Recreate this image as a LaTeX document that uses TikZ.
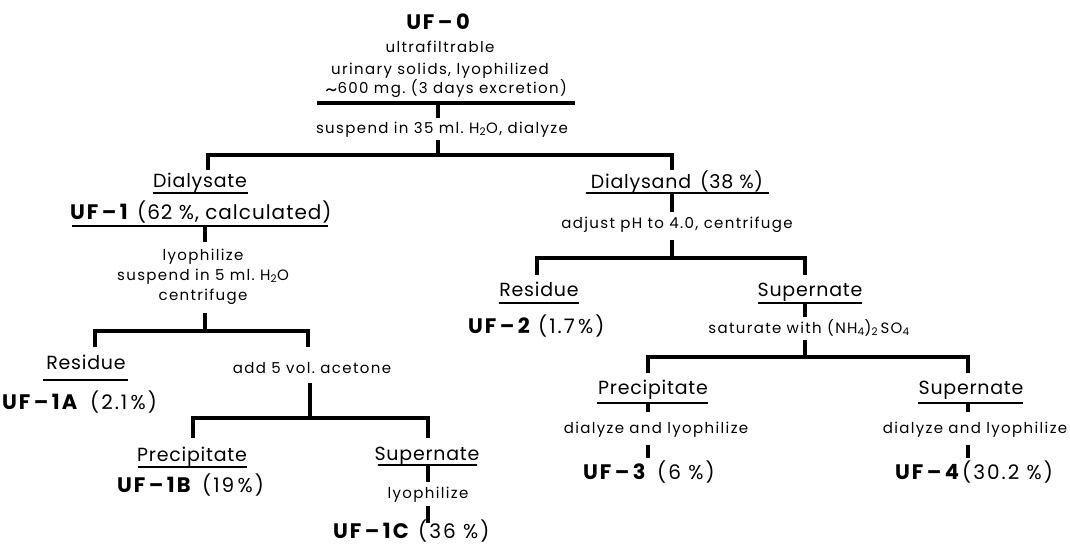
\documentclass[tikz,border=0pt]{standalone}
\usepackage{fontspec}
\usepackage{graphicx}
\setmainfont{Poppins}
\newcommand{\wave}{\raisebox{-.45ex}{\scalebox{1.6}[1.3]{\textasciitilde}}}
\begin{document}
\begin{tikzpicture}[x=1pt,y=-1pt,
  every node/.style={inner sep=0pt},
  sm/.style={font=\fontsize{15}{18}\selectfont\addfontfeature{LetterSpace=9}, anchor=base},
  hd/.style={font=\fontsize{19}{22}\selectfont\addfontfeature{LetterSpace=4}, anchor=base},
  uf/.style={font=\fontsize{21}{24}\selectfont\bfseries\addfontfeature{LetterSpace=9}, anchor=base west},
  pc/.style={font=\fontsize{20}{24}\selectfont\addfontfeature{LetterSpace=10}, anchor=base west},
  bar/.style={line width=3.6pt, line join=miter},
  vl/.style={line width=3.6pt},
  ul/.style={line width=2.2pt},
]
\useasboundingbox (0,0) rectangle (1070,546);
% ---------- top ----------
\node[uf, anchor=base] (uf0) at (438,29) {UF\,–\,0};
\node[sm] (d0a) at (440,52) {ultrafiltrable};
\node[sm] (d0b) at (440,74) {urinary solids, lyophilized};
\node[sm] (d0c) at (446,93) {\wave600 mg.\ (3 days excretion)};
\coordinate (tl) at (317,103); \coordinate (tr) at (575,103); \coordinate (t0) at (438,103);
\draw[bar] (tl) -- (tr);
\node[sm] (s0) at (442,133) {suspend in 35 ml.\ H\textsubscript{2}O, dialyze};
\coordinate (t0b) at (438,118); \coordinate (t0c) at (438,140);
\draw[vl] (t0) -- (t0b);
% main bar
\coordinate (jA) at (438,155); \coordinate (aL) at (208,155); \coordinate (aR) at (672,155);
\coordinate (aLd) at (208,170); \coordinate (aRd) at (672,170);
\draw[vl] (t0c) -- (jA);
\draw[bar] (aLd) -- (aL) -- (aR) -- (aRd);
% ---------- left branch ----------
\node[hd] (dsate) at (200,187) {Dialysate};
\draw[ul] (153,193) -- (248,193);
\node[uf] (uf1) at (70,219) {UF\,–\,1};
\node[pc, font=\fontsize{20}{24}\selectfont\addfontfeature{LetterSpace=5}] (uf1p) at (137,219) {(62 \%, calculated)};
\draw[ul] (72,226) -- (328,226);
\coordinate (l1a) at (205,226); \coordinate (l1b) at (205,242);
\draw[vl] (l1a) -- (l1b);
\node[sm] (l1t1) at (203,260) {lyophilize};
\node[sm] (l1t2) at (203,280) {suspend in 5 ml.\ H\textsubscript{2}O};
\node[sm] (l1t3) at (203,300) {centrifuge};
\coordinate (l1c) at (205,313); \coordinate (jB) at (205,331);
\draw[vl] (l1c) -- (jB);
\coordinate (bL) at (95,331); \coordinate (bR) at (308,331);
\coordinate (bLd) at (95,347); \coordinate (bRd) at (308,347);
\draw[bar] (bLd) -- (bL) -- (bR) -- (bRd);
\node[hd] (resL) at (86,369) {Residue};
\draw[ul] (43,380) -- (128,380);
\node[uf] (uf1a) at (2,409) {UF\,–\,1A};
\node[pc] (uf1ap) at (90,409) {(2.1\,\%)};
\node[sm] (acet) at (312,373) {add 5 vol.\ acetone};
\coordinate (l2a) at (310,383); \coordinate (jC) at (310,418);
\draw[vl] (l2a) -- (jC);
\coordinate (cL) at (193,418); \coordinate (cR) at (428,418);
\coordinate (cLd) at (193,438); \coordinate (cRd) at (428,438);
\draw[bar] (cLd) -- (cL) -- (cR) -- (cRd);
\node[hd] (precL) at (192,461) {Precipitate};
\draw[ul] (138,467) -- (247,467);
\node[uf] (uf1b) at (117,492) {UF\,–\,1B};
\node[pc] (uf1bp) at (202,492) {(19\,\%)};
\node[hd] (supL) at (427,460) {Supernate};
\draw[ul] (378,465) -- (477,465);
\coordinate (l3a) at (428,465); \coordinate (l3b) at (428,482);
\draw[vl] (l3a) -- (l3b);
\node[sm] (lyo2) at (428,498) {lyophilize};
\coordinate (l3c) at (428,506); \coordinate (l3d) at (428,523);
\draw[vl] (l3c) -- (l3d);
\node[uf] (uf1c) at (333,538) {UF\,–\,1C};
\node[pc] (uf1cp) at (418,538) {(36 \%)};
% ---------- right branch ----------
\node[hd] (dsand) at (677,188) {Dialysand\hspace{9pt}(38 \%)};
\draw[ul] (586,193) -- (769,193);
\coordinate (r1a) at (672,193); \coordinate (r1b) at (672,212);
\draw[vl] (r1a) -- (r1b);
\node[sm] (adj) at (677,228) {adjust pH to 4.0, centrifuge};
\coordinate (r1c) at (672,240); \coordinate (jD) at (672,258);
\draw[vl] (r1c) -- (jD);
\coordinate (dL) at (537,258); \coordinate (dR) at (805,258);
\coordinate (dLd) at (537,275); \coordinate (dRd) at (805,275);
\draw[bar] (dLd) -- (dL) -- (dR) -- (dRd);
\node[hd] (resR) at (539,296) {Residue};
\draw[ul] (499,303) -- (579,303);
\node[uf] (uf2) at (468,333) {UF\,–\,2};
\node[pc] (uf2p) at (538,333) {(1.7\,\%)};
\node[hd] (supR) at (810,296) {Supernate};
\draw[ul] (758,303) -- (862,303);
\coordinate (r2a) at (805,303); \coordinate (r2b) at (805,317);
\draw[vl] (r2a) -- (r2b);
\node[sm] (sat) at (809,333) {saturate with (NH\textsubscript{4})\textsubscript{2}\,SO\textsubscript{4}};
\coordinate (r2c) at (805,340); \coordinate (jE) at (805,357);
\draw[vl] (r2c) -- (jE);
\coordinate (eL) at (648,357); \coordinate (eR) at (968,357);
\coordinate (eLd) at (648,373); \coordinate (eRd) at (968,373);
\draw[bar] (eLd) -- (eL) -- (eR) -- (eRd);
\node[hd] (precR) at (653,394) {Precipitate};
\draw[ul] (597,403) -- (708,403);
\coordinate (r3a) at (648,403); \coordinate (r3b) at (648,412);
\draw[vl] (r3a) -- (r3b);
\node[sm] (dia1) at (656,433) {dialyze and lyophilize};
\coordinate (r3c) at (648,445); \coordinate (r3d) at (648,458);
\draw[vl] (r3c) -- (r3d);
\node[uf] (uf3) at (583,479) {UF\,–\,3};
\node[pc] (uf3p) at (657,479) {(6 \%)};
\node[hd] (supRR) at (971,394) {Supernate};
\draw[ul] (918,403) -- (1023,403);
\coordinate (r4a) at (968,403); \coordinate (r4b) at (968,412);
\draw[vl] (r4a) -- (r4b);
\node[sm] (dia2) at (975,433) {dialyze and lyophilize};
\coordinate (r4c) at (968,445); \coordinate (r4d) at (968,458);
\draw[vl] (r4c) -- (r4d);
\node[uf] (uf4) at (895,479) {UF\,–\,4};
\node[pc] (uf4p) at (962,479) {(30.2 \%)};
\end{tikzpicture}
\end{document}
